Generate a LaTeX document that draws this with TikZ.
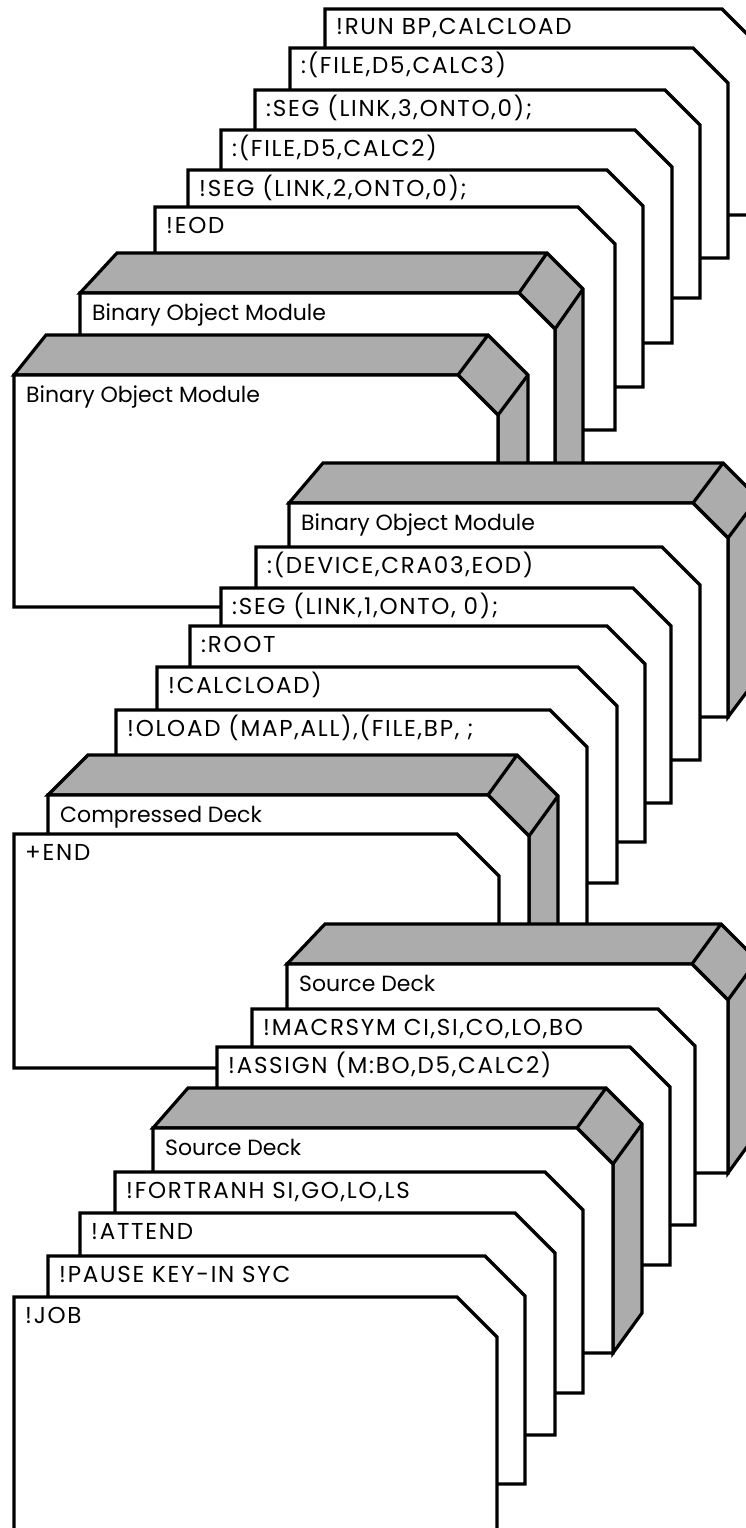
\documentclass[tikz,border=0pt]{standalone}
\usepackage{fontspec}
\setmainfont{Poppins}
\newfontfamily\capsfont[LetterSpace=7.5]{Poppins}
\definecolor{stip}{RGB}{172,172,172}
\tikzset{
  edge/.style={line width=3.2pt, line join=miter},
  cardshape/.style={edge, draw=black, fill=white},
  deckside/.style={edge, draw=black, fill=stip},
  lbl/.style={anchor=base west, inner sep=0pt, font=\capsfont\fontsize{23}{26}\selectfont},
  mixlbl/.style={anchor=base west, inner sep=0pt, font=\fontsize{22}{26}\selectfont}
}
% name, L, T, C (corner x), R (right x), B (bottom), text
\newcommand{\card}[7]{%
  \draw[cardshape] (#2,#3) -- (#4,#3) -- (#5,{#3+#5-#4}) -- (#5,#6) -- (#2,#6) -- cycle;
  \node[lbl] (#1) at ({#2+11},{#3+26}) {#7};
}
% name, L, T, C, R, B, left offset, right offset, text (depth 40)
\newcommand{\deck}[9]{%
  \draw[deckside] (#2,#3) -- ({#2+#7},{#3-40}) -- ({#4+#8},{#3-40}) -- ({#5+#8},{#3-40+#5-#4}) -- ({#5+#8},{#6-40}) -- (#5,#6) -- (#5,{#3+#5-#4}) -- (#4,#3) -- cycle;
  \draw[edge] (#4,#3) -- ({#4+#8},{#3-40});
  \draw[edge] (#5,{#3+#5-#4}) -- ({#5+#8},{#3-40+#5-#4});
  \draw[cardshape] (#2,#3) -- (#4,#3) -- (#5,{#3+#5-#4}) -- (#5,#6) -- (#2,#6) -- cycle;
  \node[mixlbl] (#1) at ({#2+12},{#3+27}) {#9};
}
\begin{document}
\begin{tikzpicture}[x=1pt,y=-1pt]
\useasboundingbox (0,0) rectangle (746,1528);
\fill[white] (0,0) rectangle (746,1528);
\clip (0,0) rectangle (746,1528);
% group 1
\card{run}{325}{9}{722}{758}{215}{!RUN BP,CALCLOAD}
\card{filec3}{290}{48}{693}{728}{258}{:(FILE,D5,CALC3)}
\card{seg3}{255}{90}{665}{700}{298}{:SEG (LINK,3,ONTO,0);}
\card{filec2}{221}{130}{635}{672}{343}{:(FILE,D5,CALC2)}
\card{seg2}{188}{170}{607}{643}{387}{!SEG (LINK,2,ONTO,0);}
\card{eod}{155}{207}{578}{615}{430}{!EOD}
\deck{bomA}{80}{293}{519}{555}{520}{37}{28}{Binary Object Module}
\deck{bomB}{14}{375}{458}{498}{607}{32}{30}{Binary Object Module}
% group 2
\deck{bomC}{289}{503}{693}{728}{717}{34}{30}{Binary Object Module}
\card{device}{256}{547}{662}{700}{760}{:(DEVICE,CRA03,EOD)}
\card{seg1}{221}{588}{633}{671}{803}{:SEG (LINK,1,ONTO, 0);}
\card{root}{190}{626}{607}{645}{842}{:ROOT}
\card{calcload}{157}{667}{578}{617}{883}{!CALCLOAD)}
\card{oload}{116}{710}{550}{587}{930}{!OLOAD (MAP,ALL),(FILE,BP, ;}
\deck{comp}{48}{795}{488}{529}{1000}{40}{29}{Compressed Deck}
\card{endc}{14}{834}{457}{499}{1068}{+END}
% group 3
\deck{srcE}{287}{964}{692}{728}{1173}{38}{29}{Source Deck}
\card{macrsym}{252}{1009}{658}{695}{1225}{!MACRSYM CI,SI,CO,LO,BO}
\card{assign}{217}{1047}{630}{670}{1265}{!ASSIGN (M:BO,D5,CALC2)}
\deck{srcF}{153}{1128}{577}{613}{1353}{35}{29}{Source Deck}
\card{fortranh}{115}{1172}{545}{583}{1393}{!FORTRANH SI,GO,LO,LS}
\card{attend}{80}{1213}{515}{555}{1435}{!ATTEND}
\card{pause}{48}{1256}{485}{525}{1484}{!PAUSE KEY-IN SYC}
\card{job}{14}{1297}{457}{497}{1560}{!JOB}
\end{tikzpicture}
\end{document}
